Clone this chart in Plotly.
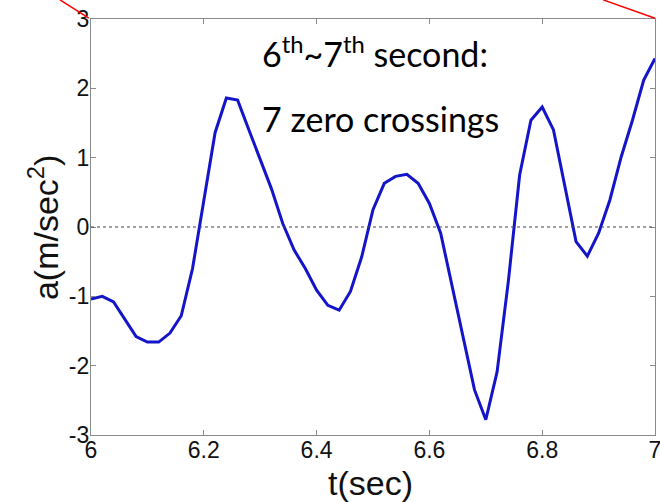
import plotly.graph_objects as go

# Data
t_sec = [6.00, 6.02, 6.04, 6.06, 6.08, 6.10, 6.12, 6.14, 6.16, 6.18,
         6.20, 6.22, 6.24, 6.26, 6.28, 6.30, 6.32, 6.34, 6.36, 6.38,
         6.40, 6.42, 6.44, 6.46, 6.48, 6.50, 6.52, 6.54, 6.56, 6.58,
         6.60, 6.62, 6.64, 6.66, 6.68, 6.70, 6.72, 6.74, 6.76, 6.78,
         6.80, 6.82, 6.84, 6.86, 6.88, 6.90, 6.92, 6.94, 6.96, 6.98, 7.00]
accel = [-1.04, -1.00, -1.08, -1.33, -1.58, -1.66, -1.66, -1.53, -1.28, -0.60,
         0.39, 1.36, 1.86, 1.83, 1.40, 0.98, 0.55, 0.05, -0.33, -0.60,
         -0.91, -1.13, -1.20, -0.93, -0.43, 0.25, 0.63, 0.73, 0.76, 0.63,
         0.34, -0.09, -0.85, -1.60, -2.35, -2.78, -2.09, -0.78, 0.75, 1.54,
         1.73, 1.40, 0.60, -0.21, -0.42, -0.09, 0.39, 1.01, 1.54, 2.12, 2.43]
x_ticks = [6, 6.2, 6.4, 6.6, 6.8, 7]
x_tick_labels = ["6", "6.2", "6.4", "6.6", "6.8", "7"]
y_ticks = [-3, -2, -1, 0, 1, 2, 3]
y_tick_labels = ["-3", "-2", "-1", "0", "1", "2", "3"]

fig = go.Figure()
fig.add_trace(go.Scatter(x=t_sec, y=accel, mode="lines",
                         line=dict(color="#1414c8", width=3), showlegend=False))

axis_common = dict(showline=True, linecolor="#8a8a8a", linewidth=1.2, mirror="ticks",
                   ticks="inside", ticklen=5, tickcolor="#8a8a8a", tickwidth=1,
                   showgrid=False, zeroline=False, ticklabeloverflow="allow",
                   automargin=False,
                   tickfont=dict(family="Liberation Sans, Arial", size=23, color="#111"))

fig.update_xaxes(range=[6, 7], tickvals=x_ticks, ticktext=x_tick_labels,
                 ticklabelstandoff=-6, **axis_common)
fig.update_yaxes(range=[-3, 3], tickvals=y_ticks, ticktext=y_tick_labels,
                 ticklabelstandoff=-4, **axis_common)

# dotted zero line
fig.add_shape(type="line", xref="paper", yref="y", x0=0, x1=1, y0=0, y1=0,
              line=dict(color="#444", width=1.2, dash="dot"))

# red connector lines
fig.add_shape(type="line", xref="paper", yref="paper", x0=-0.055, y0=1.046, x1=-0.004, y1=1.002,
              line=dict(color="red", width=1.5))
fig.add_shape(type="line", xref="paper", yref="paper", x0=0.908, y0=1.046, x1=1.0, y1=1.002,
              line=dict(color="red", width=1.5))

# axis titles as annotations
fig.add_annotation(text="a(m/sec<sup>2</sup>)", xref="paper", yref="paper",
                   x=-0.085, y=0.5, xanchor="center", yanchor="middle", textangle=-90,
                   showarrow=False, font=dict(family="Liberation Sans, Arial", size=34, color="#111"))
fig.add_annotation(text="t(sec)", xref="paper", yref="paper",
                   x=0.496, y=-0.115, xanchor="center", yanchor="middle",
                   showarrow=False, font=dict(family="Liberation Sans, Arial", size=34, color="#111"))

# text annotations
fig.add_annotation(text="6<sup>th</sup>~7<sup>th</sup> second:", xref="paper", yref="paper",
                   x=0.2996, y=0.92, xanchor="left", yanchor="middle",
                   showarrow=False, font=dict(family="Lato", size=34, color="#000"))
fig.add_annotation(text="7 zero crossings", xref="paper", yref="paper",
                   x=0.2996, y=0.762, xanchor="left", yanchor="middle",
                   showarrow=False, font=dict(family="Lato", size=34, color="#000"))

fig.update_layout(width=660, height=502, margin=dict(l=91, r=5, t=19, b=67, autoexpand=False),
                  paper_bgcolor="white", plot_bgcolor="white")

fig.write_html("out.html")
